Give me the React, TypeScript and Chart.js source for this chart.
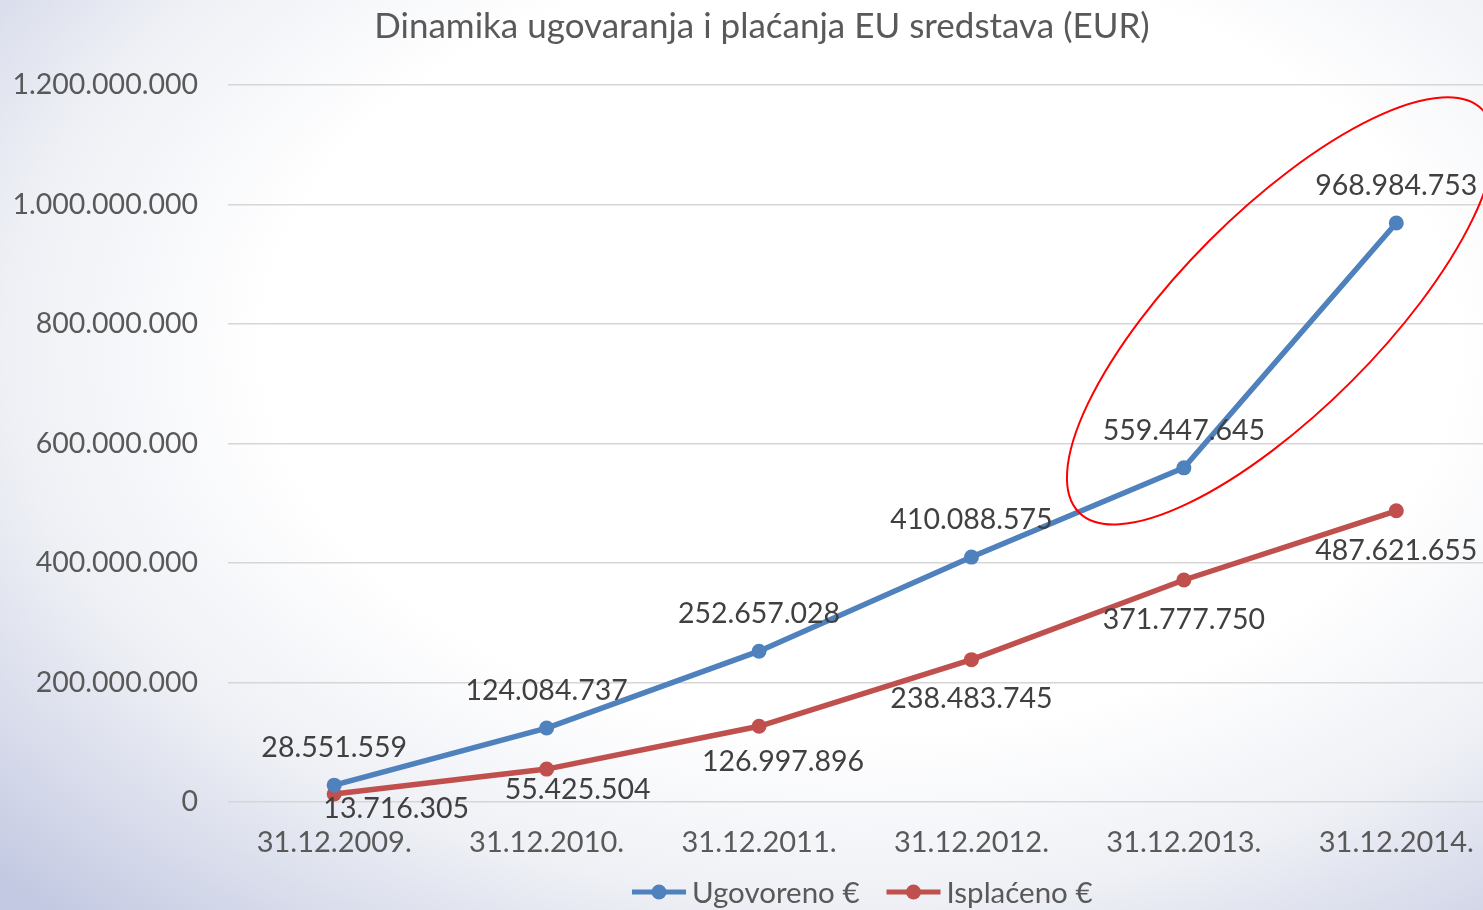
import React, { useEffect, useRef } from "react";
import { Chart, registerables } from "chart.js";

Chart.register(...registerables);

const TITLE = "Dinamika ugovaranja i plaćanja EU sredstava (EUR)";
const categories = ["31.12.2009.", "31.12.2010.", "31.12.2011.", "31.12.2012.", "31.12.2013.", "31.12.2014."];
const seriesNames = ["Ugovoreno €", "Isplaćeno €"];
const ugovoreno = [28551559, 124084737, 252657028, 410088575, 559447645, 968984753];
const isplaceno = [13716305, 55425504, 126997896, 238483745, 371777750, 487621655];
const yMax = 1200000000;
const yStep = 200000000;

const BLUE = "#4f81bd";
const RED = "#c0504d";
const FONT = "Lato, 'Open Sans', sans-serif";

const fmt = (v: number) => Math.round(v).toString().replace(/\B(?=(\d{3})+(?!\d))/g, ".");

// label placement style (pixel offsets from each point)
const blueLabelShift = [[0, -37], [0, -37], [0, -37], [0, -37], [0, -37], [0, -37]];
const redLabelShift = [[62, 15], [31, 21], [24, 36], [0, 39], [0, 40], [0, 40]];

const overlayPlugin = {
  id: "overlay",
  afterDatasetsDraw(chart: any) {
    const ctx = chart.ctx;
    const ca = chart.chartArea;
    ctx.save();
    // data labels
    ctx.font = `28.5px ${FONT}`;
    ctx.fillStyle = "#404040";
    ctx.textAlign = "center";
    ctx.textBaseline = "middle";
    const shifts = [blueLabelShift, redLabelShift];
    chart.data.datasets.forEach((ds: any, di: number) => {
      const meta = chart.getDatasetMeta(di);
      meta.data.forEach((pt: any, i: number) => {
        const s = shifts[di][i];
        ctx.fillText(fmt(ds.data[i]), pt.x + s[0], pt.y + s[1]);
      });
    });
    // red ellipse annotation
    const xs = chart.scales.x;
    const ys = chart.scales.y;
    const cx = xs.getPixelForValue(4.455);
    const cy = ys.getPixelForValue(822000000);
    ctx.beginPath();
    ctx.strokeStyle = "#ff0000";
    ctx.lineWidth = 2;
    ctx.ellipse(cx, cy, 285, 100, -Math.PI / 4, 0, Math.PI * 2);
    ctx.stroke();
    // title
    ctx.font = `35px ${FONT}`;
    ctx.fillStyle = "#595959";
    ctx.textAlign = "center";
    ctx.fillText(TITLE, 762, 27);
    // legend
    ctx.font = `29.5px ${FONT}`;
    const colors = [BLUE, RED];
    const lineW = 54;
    const gap = 6;
    const itemGap = 27;
    const widths = seriesNames.map((n) => lineW + gap + ctx.measureText(n).width);
    const total = widths.reduce((a, b) => a + b, 0) + itemGap;
    let x = (ca.left + ca.right) / 2 - total / 2 - 3;
    const ly = 892;
    seriesNames.forEach((n, i) => {
      ctx.strokeStyle = colors[i];
      ctx.lineWidth = 5;
      ctx.beginPath();
      ctx.moveTo(x, ly);
      ctx.lineTo(x + lineW, ly);
      ctx.stroke();
      ctx.fillStyle = colors[i];
      ctx.beginPath();
      ctx.arc(x + lineW / 2, ly, 7.5, 0, Math.PI * 2);
      ctx.fill();
      ctx.fillStyle = "#595959";
      ctx.textAlign = "left";
      ctx.fillText(n, x + lineW + gap, ly + 1);
      x += widths[i] + itemGap;
    });
    ctx.restore();
  },
};

export default function App() {
  const ref = useRef<HTMLCanvasElement>(null);
  useEffect(() => {
    const chart = new Chart(ref.current!, {
      type: "line",
      data: {
        labels: categories,
        datasets: [
          {
            label: seriesNames[0],
            data: ugovoreno,
            borderColor: BLUE,
            backgroundColor: BLUE,
            borderWidth: 5.5,
            pointRadius: 7.5,
            pointBorderWidth: 0,
            pointBackgroundColor: BLUE,
          },
          {
            label: seriesNames[1],
            data: isplaceno,
            borderColor: RED,
            backgroundColor: RED,
            borderWidth: 5.5,
            pointRadius: 7.5,
            pointBorderWidth: 0,
            pointBackgroundColor: RED,
          },
        ],
      },
      options: {
        animation: false,
        responsive: false,
        layout: { padding: { top: 85, bottom: 35, left: 0, right: 0 } },
        plugins: { legend: { display: false }, title: { display: false }, tooltip: { enabled: false } },
        scales: {
          x: {
            offset: true,
            grid: { display: false },
            border: { display: false },
            ticks: { color: "#595959", font: { family: FONT, size: 29 }, padding: 15, maxRotation: 0 },
          },
          y: {
            min: 0,
            max: yMax,
            afterFit: (s: any) => {
              s.width = 228;
            },
            grid: { color: "#d6d6d6", lineWidth: 1.5, drawTicks: false },
            border: { display: false },
            ticks: {
              stepSize: yStep,
              color: "#595959",
              font: { family: FONT, size: 28.5 },
              padding: 30,
              callback: (v: any) => fmt(Number(v)),
            },
          },
        },
      },
      plugins: [overlayPlugin],
    });
    return () => chart.destroy();
  }, []);
  return (
    <div
      style={{
        position: "fixed",
        left: 0,
        top: 0,
        width: 1483,
        height: 910,
        overflow: "hidden",
        background:
          "radial-gradient(ellipse 80% 85% at 58% 38%, #ffffff 0%, #ffffff 50%, #eef0f5 72%, #c3c9e2 100%)",
      }}
    >
      <canvas ref={ref} width={1510} height={910} style={{ position: "absolute", left: 0, top: 0, width: 1510, height: 910 }} />
    </div>
  );
}
